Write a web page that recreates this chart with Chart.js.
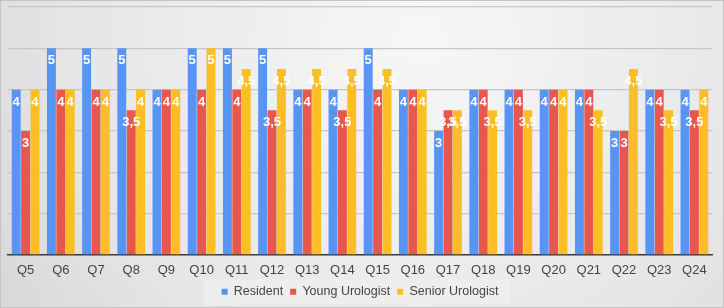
<!DOCTYPE html>
<html lang="en">
<head>
    <meta charset="utf-8">
    <title>Urologist survey</title>
    <script src="https://cdn.jsdelivr.net/npm/chart.js@4.4.0/dist/chart.umd.min.js"></script>
    <style>
        html, body { margin: 0; padding: 0; background: #fff; }
        #wrap { width: 724px; height: 308px; }
    </style>
</head>
<body>
    <div id="wrap"><canvas id="myChart" width="724" height="308"></canvas></div>
    <script>
        const questions = ["Q5", "Q6", "Q7", "Q8", "Q9", "Q10", "Q11", "Q12", "Q13", "Q14",
            "Q15", "Q16", "Q17", "Q18", "Q19", "Q20", "Q21", "Q22", "Q23", "Q24"];
        const resident = [4, 5, 5, 5, 4, 5, 5, 5, 4, 4, 5, 4, 3, 4, 4, 4, 4, 3, 4, 4];
        const youngUrologist = [3, 4, 4, 3.5, 4, 4, 4, 3.5, 4, 3.5, 4, 4, 3.5, 4, 4, 4, 4, 3, 4, 3.5];
        const seniorUrologist = [4, 4, 4, 4, 4, 5, 4.5, 4.5, 4.5, 4.5, 4.5, 4, 3.5, 3.5, 3.5, 4, 3.5, 4.5, 3.5, 4];

        // grey gradient panel + lighter box behind the legend
        const panelBg = {
            id: 'panelBg',
            beforeDraw(chart) {
                const ctx = chart.ctx;
                const w = chart.width, h = chart.height;
                ctx.save();
                const g = ctx.createRadialGradient(420, 40, 20, 420, 40, 560);
                g.addColorStop(0, '#f6f6f6');
                g.addColorStop(0.6, '#e6e6e6');
                g.addColorStop(1, '#d2d2d2');
                ctx.fillStyle = g;
                ctx.fillRect(0, 0, w, h);
                ctx.strokeStyle = '#c4c4c4';
                ctx.lineWidth = 1;
                ctx.strokeRect(0.5, 0.5, w - 1, h - 1);
                const boxes = chart.legend.legendHitBoxes;
                if (boxes && boxes.length) {
                    const x0 = Math.min(...boxes.map(b => b.left)) - 18;
                    const x1 = Math.max(...boxes.map(b => b.left + b.width)) + 12;
                    const y0 = boxes[0].top - 6;
                    ctx.fillStyle = 'rgba(238,238,238,0.9)';
                    ctx.fillRect(x0, y0, x1 - x0, boxes[0].height + 13);
                }
                ctx.restore();
            }
        };

        // white value labels at the top inside each bar
        const barLabels = {
            id: 'barLabels',
            afterDatasetsDraw(chart) {
                const ctx = chart.ctx;
                ctx.save();
                ctx.font = 'bold 13px "Liberation Sans", Arial, sans-serif';
                ctx.fillStyle = '#ffffff';
                ctx.textAlign = 'center';
                ctx.textBaseline = 'top';
                chart.data.datasets.forEach((ds, i) => {
                    chart.getDatasetMeta(i).data.forEach((bar, j) => {
                        const txt = String(ds.data[j]).replace('.', ',');
                        ctx.fillText(txt, bar.x, bar.y + 6);
                    });
                });
                ctx.restore();
            }
        };

        const myChart = new Chart(document.getElementById('myChart'), {
            type: 'bar',
            data: {
                labels: questions,
                datasets: [
                    { label: 'Resident', data: resident, backgroundColor: '#5894f1' },
                    { label: 'Young Urologist', data: youngUrologist, backgroundColor: '#e8574b' },
                    { label: 'Senior Urologist', data: seniorUrologist, backgroundColor: '#fbbe25' }
                ]
            },
            options: {
                responsive: false,
                animation: false,
                layout: { padding: { top: 7, left: 8, right: 12, bottom: 0 } },
                datasets: { bar: { categoryPercentage: 0.8, barPercentage: 0.95 } },
                scales: {
                    x: {
                        grid: { display: false },
                        border: { color: '#3a3a3a', width: 1.5 },
                        ticks: {
                            color: '#444',
                            padding: 0,
                            font: { family: '"Liberation Sans", Arial, sans-serif', size: 13 }
                        }
                    },
                    y: {
                        min: 0,
                        max: 6,
                        ticks: { display: false, stepSize: 1 },
                        border: { display: false },
                        grid: { color: '#c6c6c6', lineWidth: 1.2, drawTicks: false }
                    }
                },
                plugins: {
                    tooltip: { enabled: false },
                    legend: {
                        position: 'bottom',
                        labels: {
                            color: '#444',
                            boxWidth: 6,
                            boxHeight: 6,
                            padding: 7,
                            font: { family: '"Liberation Sans", Arial, sans-serif', size: 12.5 }
                        }
                    }
                }
            },
            plugins: [panelBg, barLabels]
        });
    </script>
</body>
</html>
